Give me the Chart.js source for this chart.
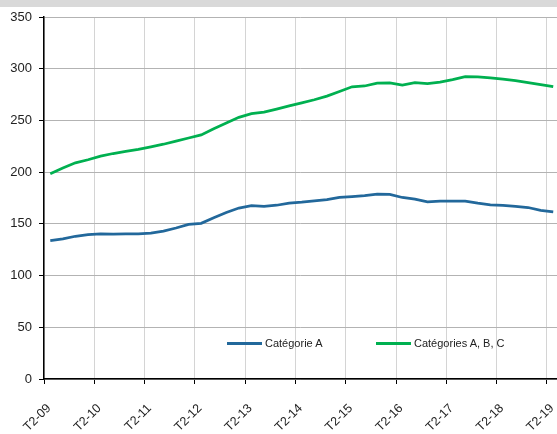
<!DOCTYPE html>
<html>
<head>
<meta charset="utf-8">
<script src="https://cdn.jsdelivr.net/npm/chart.js@4"></script>
<style>
    html, body { margin: 0; padding: 0; background: #fff; }
    #wrap { position: relative; width: 557px; height: 434px; }
    #topBar { position: absolute; left: 0; top: 0; width: 557px; height: 7px; background: #d9d9d9; }
    canvas { position: absolute; left: 0; top: 0; }
    .legend-item { position: absolute; top: 336px; font: 11px "Liberation Sans", Arial, sans-serif; color: #222; white-space: nowrap; line-height: 14px; }
    .legend-item span.swatch { display: inline-block; width: 35px; height: 3px; vertical-align: middle; margin-right: 3px; position: relative; top: -1px; }
</style>
</head>
<body>
<div id="wrap">
    <div id="topBar"></div>
    <canvas id="chart" width="557" height="434"></canvas>
    <div class="legend-item" style="left:227px"><span class="swatch" style="background:#22689b"></span>Catégorie A</div>
    <div class="legend-item" style="left:376px"><span class="swatch" style="background:#00b050"></span>Catégories A, B, C</div>
</div>
<script>
// Quarterly series, T2-09 .. T2-19 (41 quarters)
const tickLabels = ['T2-09', 'T2-10', 'T2-11', 'T2-12', 'T2-13', 'T2-14', 'T2-15', 'T2-16', 'T2-17', 'T2-18', 'T2-19'];

const categorieA = [
    133.8, 135.5, 138, 139.5, 140.3, 140, 140.2, 140.3,
    141, 143, 146, 149.5, 150.5, 156, 161, 165.3,
    167.7, 167, 168, 170, 171, 172.3, 173.5, 175.5,
    176.3, 177.3, 178.7, 178.5, 175.5, 174, 171.3, 172,
    172, 172, 170, 168.3, 167.8, 167, 165.8, 163,
    161.6
];

const categoriesABC = [
    198.5, 204, 209, 212, 215.5, 218, 220, 222,
    224.5, 227, 230, 233, 236, 242, 247.5, 253,
    256.5, 258, 261, 264, 267, 270, 273.5, 278,
    282.5, 283.3, 286, 286.3, 284.2, 286.5, 285.7, 287,
    289.5, 292.3, 292, 291.2, 290, 288.5, 286.6, 284.7,
    282.7
];

// each quarter sits in the middle of its slot
function toPoints(values) {
    return values.map((v, i) => ({ x: i + 0.5, y: v }));
}

const ctx = document.getElementById('chart').getContext('2d');
const chart = new Chart(ctx, {
    type: 'line',
    data: {
        datasets: [{
            label: 'Catégorie A',
            data: toPoints(categorieA),
            borderColor: '#22689b',
            borderWidth: 2.75,
            pointRadius: 0,
            tension: 0
        }, {
            label: 'Catégories A, B, C',
            data: toPoints(categoriesABC),
            borderColor: '#00b050',
            borderWidth: 2.75,
            pointRadius: 0,
            tension: 0
        }]
    },
    options: {
        responsive: false,
        animation: false,
        layout: { padding: { top: 17, right: 0, left: 0, bottom: 0 } },
        plugins: {
            legend: { display: false },
            tooltip: { enabled: false }
        },
        scales: {
            x: {
                type: 'linear',
                min: 0,
                max: 40.8,
                afterBuildTicks: (axis) => {
                    axis.ticks = tickLabels.map((t, i) => ({ value: i * 4 }));
                },
                afterFit: (axis) => {
                    axis.height = 55;
                    axis.paddingRight = 0;
                    axis.paddingLeft = 0;
                },
                ticks: {
                    autoSkip: false,
                    maxRotation: 45,
                    minRotation: 45,
                    color: '#222',
                    padding: 17,
                    labelOffset: 5,
                    font: { family: '"Liberation Sans", Arial, sans-serif', size: 12.5 },
                    callback: (value) => tickLabels[Math.round(value / 4)]
                },
                grid: {
                    color: '#d4d4d4',
                    tickColor: '#000',
                    tickLength: 5
                },
                border: { color: '#000', width: 1.5 }
            },
            y: {
                min: 0,
                max: 350,
                afterFit: (axis) => { axis.width = 44; },
                ticks: {
                    stepSize: 50,
                    color: '#222',
                    padding: 7,
                    font: { family: '"Liberation Sans", Arial, sans-serif', size: 13 }
                },
                grid: {
                    color: '#b3b3b3',
                    tickColor: '#000',
                    tickLength: 5
                },
                border: { color: '#000', width: 1.5 }
            }
        }
    }
});
</script>
</body>
</html>
